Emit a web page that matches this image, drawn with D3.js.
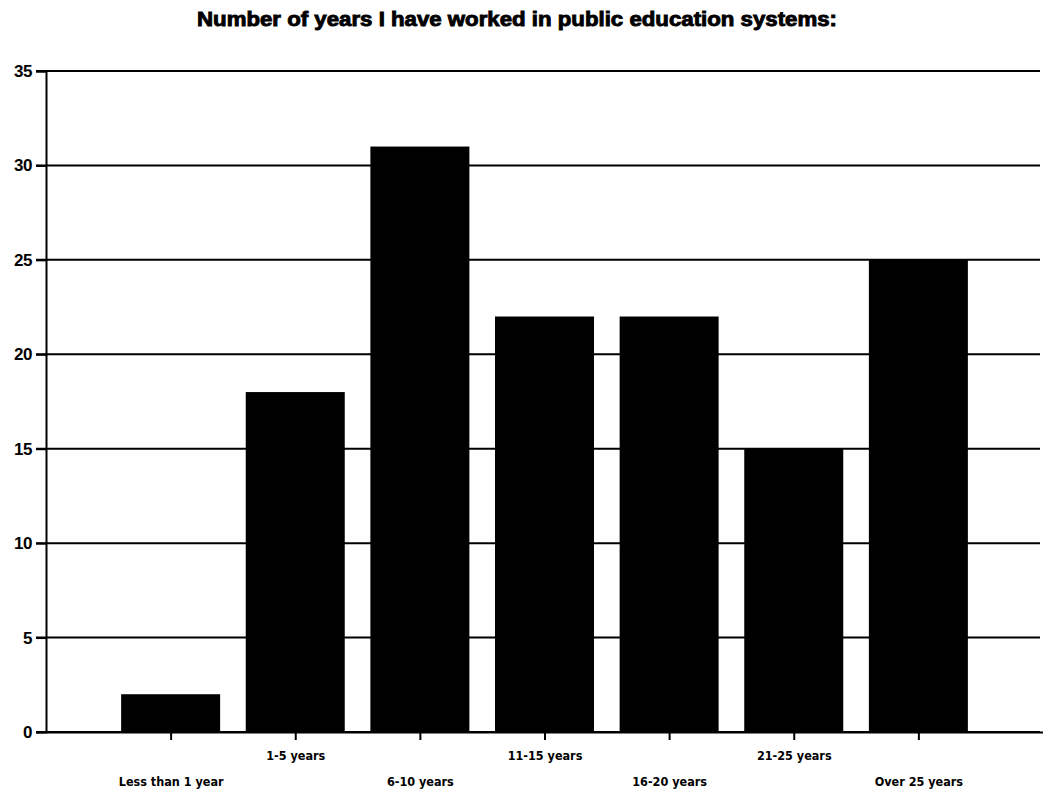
<!DOCTYPE html>
<html>
<head>
<meta charset="utf-8">
<script src="https://cdn.jsdelivr.net/npm/d3@7"></script>
<style>
  html, body { margin: 0; padding: 0; background: #fff; }
  svg { display: block; }
  text { font-family: "Liberation Sans", Arial, sans-serif; font-weight: bold; fill: #000; }
</style>
</head>
<body>
<svg id="chart" width="1043" height="791"></svg>
<script>
const categories = ["Less than 1 year", "1-5 years", "6-10 years", "11-15 years", "16-20 years", "21-25 years", "Over 25 years"];
const values = [2, 18, 31, 22, 22, 15, 25];
const yTicks = [0, 5, 10, 15, 20, 25, 30, 35];
const title = "Number of years I have worked in public education systems:";

(function () {
const svg = d3.select("#chart");
const mLeft = 46, mRight = 1043, mTop = 71, mBottom = 732;

const x = d3.scalePoint().domain(categories).range([mLeft, mRight]).padding(1);
const y = d3.scaleLinear().domain([0, 35]).range([mBottom, mTop]);
const barW = 99;

svg.append("text")
  .attr("x", 517).attr("y", 26)
  .attr("text-anchor", "middle")
  .attr("textLength", 640)
  .attr("lengthAdjust", "spacingAndGlyphs")
  .attr("stroke", "#000").attr("stroke-width", 0.9)
  .style("font-size", "20px")
  .text(title);

// gridlines
svg.append("g")
  .selectAll("line").data(yTicks).join("line")
  .attr("x1", mLeft - 10).attr("x2", 1040)
  .attr("y1", d => y(d)).attr("y2", d => y(d))
  .attr("stroke", "#000").attr("stroke-width", 2);

// y axis
const yAxis = svg.append("g")
  .attr("transform", `translate(${mLeft},0)`)
  .call(d3.axisLeft(y).tickValues(yTicks).tickSize(10).tickPadding(4));
yAxis.select(".domain").attr("stroke", "#000").attr("stroke-width", 2);
yAxis.selectAll(".tick line").attr("stroke", "#000").attr("stroke-width", 2);
yAxis.selectAll(".tick text")
  .style("font-size", "17px").style("font-family", "'Liberation Sans', Arial, sans-serif")
  .style("font-weight", "bold").style("letter-spacing", "-0.5px").attr("fill", "#000");

// bars
svg.append("g")
  .selectAll("rect").data(values).join("rect")
  .attr("x", (d, i) => x(categories[i]) - barW / 2)
  .attr("width", barW)
  .attr("y", d => y(d))
  .attr("height", d => y(0) - y(d))
  .attr("fill", "#000");

// x axis
const xAxis = svg.append("g")
  .attr("transform", `translate(0,${mBottom})`)
  .call(d3.axisBottom(x).tickSize(8).tickSizeOuter(0));
xAxis.select(".domain").attr("stroke", "#000").attr("stroke-width", 2);
xAxis.selectAll(".tick line").attr("stroke", "#000").attr("stroke-width", 2);
xAxis.selectAll(".tick text")
  .style("font-size", "12.5px").style("font-family", "'DejaVu Sans Condensed', 'Liberation Sans Narrow', sans-serif")
  .style("font-weight", "bold").attr("fill", "#000")
  .attr("y", (d, i) => i % 2 === 0 ? 50 : 24)
  .attr("dy", "0.35em");
})();
</script>
</body>
</html>
